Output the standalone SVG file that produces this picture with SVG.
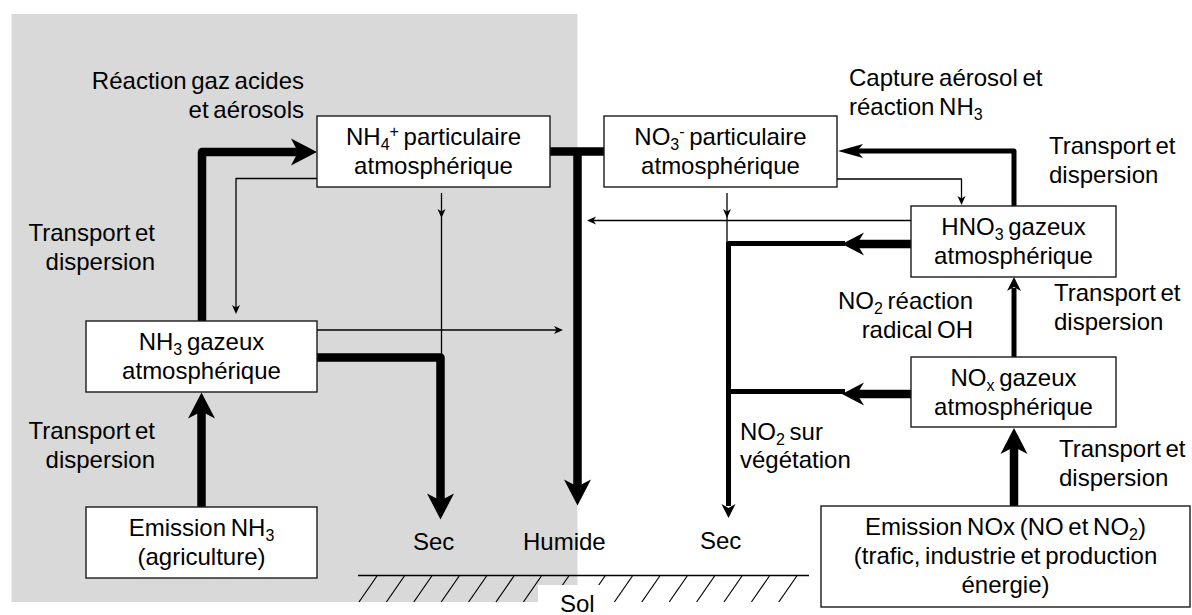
<svg xmlns="http://www.w3.org/2000/svg" xmlns:xlink="http://www.w3.org/1999/xlink" width="1192" height="615" viewBox="0 0 1192 615">
<style>
.t{font-family:"Liberation Sans",Arial,sans-serif;font-size:24px;fill:#000;word-spacing:-2px}
.c{text-anchor:middle}
.r{text-anchor:end}
.sb{font-size:16px;baseline-shift:-5px}
.sp{font-size:16px;baseline-shift:8px}
.box{fill:#fff;stroke:#1a1a1a;stroke-width:1.4}
.ln{fill:none;stroke:#000;stroke-linejoin:round}
.w8{stroke-width:8.5}
.w5{stroke-width:5}
.w1{stroke-width:1.3}
.hatch{stroke:#000;stroke-width:1.2}
</style>
<defs>
<path id="ahT" d="M0,0 L-26,-13.5 L-19,0 L-26,13.5 Z"/>
<path id="ahM" d="M0,0 L-22,-11.5 L-15,0 L-22,11.5 Z"/>
<path id="ahN" d="M0,0 L-25,-7 L-19,0 L-25,7 Z"/>
<path id="ahS" d="M0,0 L-14,-7 L-10,0 L-14,7 Z"/>
<path id="aht" d="M0,0 L-9,-4 L-6.5,0 L-9,4 Z"/>
</defs>

<g id="background">
<rect x="11.5" y="14" width="566" height="588" fill="#d9d9d9"/>
</g>

<g id="ground">
<line x1="358" y1="575.5" x2="809" y2="575.5" stroke="#000" stroke-width="1.4"/>
<g class="hatch">
<line x1="377" y1="576" x2="359" y2="602"/>
<line x1="404.4" y1="576" x2="386.4" y2="602"/>
<line x1="431.8" y1="576" x2="413.8" y2="602"/>
<line x1="459.2" y1="576" x2="441.2" y2="602"/>
<line x1="486.6" y1="576" x2="468.6" y2="602"/>
<line x1="514" y1="576" x2="496" y2="602"/>
<line x1="541.4" y1="576" x2="523.4" y2="602"/>
<line x1="568.8" y1="576" x2="550.8" y2="602"/>
<line x1="605" y1="576" x2="587" y2="602"/>
<line x1="632.4" y1="576" x2="614.4" y2="602"/>
<line x1="659.8" y1="576" x2="641.8" y2="602"/>
<line x1="687.2" y1="576" x2="669.2" y2="602"/>
<line x1="714.6" y1="576" x2="696.6" y2="602"/>
<line x1="742" y1="576" x2="724" y2="602"/>
<line x1="769.4" y1="576" x2="751.4" y2="602"/>
<line x1="796.8" y1="576" x2="778.8" y2="602"/>
</g>
<rect x="538" y="585" width="75" height="30" fill="#fff"/>
<text class="t" x="560" y="612">Sol</text>
</g>

<g id="connectors">
<line class="ln w8" x1="201.5" y1="507" x2="201.5" y2="410"/>
<use xlink:href="#ahT" transform="translate(201.5,392.5) rotate(-90)"/>
<path class="ln w8" d="M202,321 V152 H299"/>
<use xlink:href="#ahT" transform="translate(317,152)"/>
<path class="ln w1" d="M317,178.5 H236 V308"/>
<use xlink:href="#aht" transform="translate(236,314) rotate(90)"/>
<line class="ln w1" x1="441.5" y1="193" x2="441.5" y2="354"/>
<use xlink:href="#aht" transform="translate(441.5,218) rotate(90)"/>
<line class="ln w1" x1="317" y1="330" x2="557" y2="330"/>
<use xlink:href="#aht" transform="translate(563,330)"/>
<path class="ln w8" d="M317,357.5 H440.5 V502"/>
<use xlink:href="#ahT" transform="translate(440.5,519.5) rotate(90)"/>
<line class="ln w8" x1="550" y1="151.5" x2="604" y2="151.5"/>
<line class="ln w8" x1="577.5" y1="151" x2="577.5" y2="488"/>
<use xlink:href="#ahT" transform="translate(577.5,505.5) rotate(90)"/>
<line class="ln w1" x1="727" y1="193" x2="727" y2="243"/>
<use xlink:href="#aht" transform="translate(727,218) rotate(90)"/>
<path class="ln w1" d="M837,179 H961.5 V199"/>
<use xlink:href="#aht" transform="translate(961.5,205) rotate(90)"/>
<path class="ln w5" d="M1014,206 V151 H857"/>
<use xlink:href="#ahN" transform="translate(838,151) rotate(180)"/>
<line class="ln w1" x1="911" y1="220.5" x2="593" y2="220.5"/>
<use xlink:href="#aht" transform="translate(587,220.5) rotate(180)"/>
<line class="ln w8" x1="911" y1="244" x2="856" y2="244"/>
<use xlink:href="#ahM" transform="translate(842,244) rotate(180)"/>
<path class="ln w5" d="M845,243.5 H728.5 V506"/>
<use xlink:href="#ahS" transform="translate(728.5,518) rotate(90)"/>
<line class="ln w8" x1="911" y1="394" x2="856" y2="394"/>
<use xlink:href="#ahM" transform="translate(842,394) rotate(180)"/>
<line class="ln w5" x1="845" y1="391.5" x2="728.5" y2="391.5"/>
<line class="ln w5" x1="1014" y1="357" x2="1014" y2="288"/>
<use xlink:href="#ahS" transform="translate(1014,277) rotate(-90)"/>
<line class="ln w8" x1="1014" y1="506" x2="1014" y2="445"/>
<use xlink:href="#ahT" transform="translate(1014,428) rotate(-90)"/>
</g>

<g id="node-nh4">
<rect class="box" x="317" y="116" width="233" height="71"/>
<text class="t c" x="433.5" y="145">NH<tspan class="sb">4</tspan><tspan class="sp">+</tspan> particulaire</text>
<text class="t c" x="433.5" y="174">atmosphérique</text>
</g>

<g id="node-no3">
<rect class="box" x="604" y="116" width="233" height="71"/>
<text class="t c" x="720.5" y="145">NO<tspan class="sb">3</tspan><tspan class="sp">-</tspan> particulaire</text>
<text class="t c" x="720.5" y="174">atmosphérique</text>
</g>

<g id="node-hno3">
<rect class="box" x="911" y="206" width="205" height="71"/>
<text class="t c" x="1013.5" y="235">HNO<tspan class="sb">3</tspan> gazeux</text>
<text class="t c" x="1013.5" y="264">atmosphérique</text>
</g>

<g id="node-nox">
<rect class="box" x="911" y="357" width="205" height="70"/>
<text class="t c" x="1013.5" y="386">NO<tspan class="sb">x</tspan> gazeux</text>
<text class="t c" x="1013.5" y="415">atmosphérique</text>
</g>

<g id="node-nh3">
<rect class="box" x="86" y="321" width="231" height="71"/>
<text class="t c" x="201.5" y="350">NH<tspan class="sb">3</tspan> gazeux</text>
<text class="t c" x="201.5" y="379">atmosphérique</text>
</g>

<g id="node-emission-nh3">
<rect class="box" x="86" y="507" width="231" height="71"/>
<text class="t c" x="201.5" y="536">Emission NH<tspan class="sb">3</tspan></text>
<text class="t c" x="201.5" y="565">(agriculture)</text>
</g>

<g id="node-emission-nox">
<rect class="box" x="821" y="506" width="369" height="101"/>
<text class="t c" x="1005.5" y="535">Emission NOx (NO et NO<tspan class="sb">2</tspan>)</text>
<text class="t c" x="1005.5" y="564">(trafic, industrie et production</text>
<text class="t c" x="1005.5" y="593">énergie)</text>
</g>

<g id="labels">
<text class="t r" x="304" y="89">Réaction gaz acides</text>
<text class="t r" x="304" y="118">et aérosols</text>
<text class="t r" x="155" y="241">Transport et</text>
<text class="t r" x="155" y="270">dispersion</text>
<text class="t r" x="155" y="439">Transport et</text>
<text class="t r" x="155" y="468">dispersion</text>
<text class="t" x="849" y="86">Capture aérosol et</text>
<text class="t" x="849" y="115">réaction NH<tspan class="sb">3</tspan></text>
<text class="t" x="1049" y="154">Transport et</text>
<text class="t" x="1049" y="183">dispersion</text>
<text class="t r" x="973" y="309">NO<tspan class="sb">2</tspan> réaction</text>
<text class="t r" x="973" y="338">radical OH</text>
<text class="t" x="1054" y="301">Transport et</text>
<text class="t" x="1054" y="330">dispersion</text>
<text class="t" x="740" y="440">NO<tspan class="sb">2</tspan> sur</text>
<text class="t" x="740" y="468">végétation</text>
<text class="t" x="1059" y="457">Transport et</text>
<text class="t" x="1059" y="486">dispersion</text>
<text class="t" x="413" y="550">Sec</text>
<text class="t" x="523" y="550">Humide</text>
<text class="t" x="700" y="549">Sec</text>
</g>
</svg>
